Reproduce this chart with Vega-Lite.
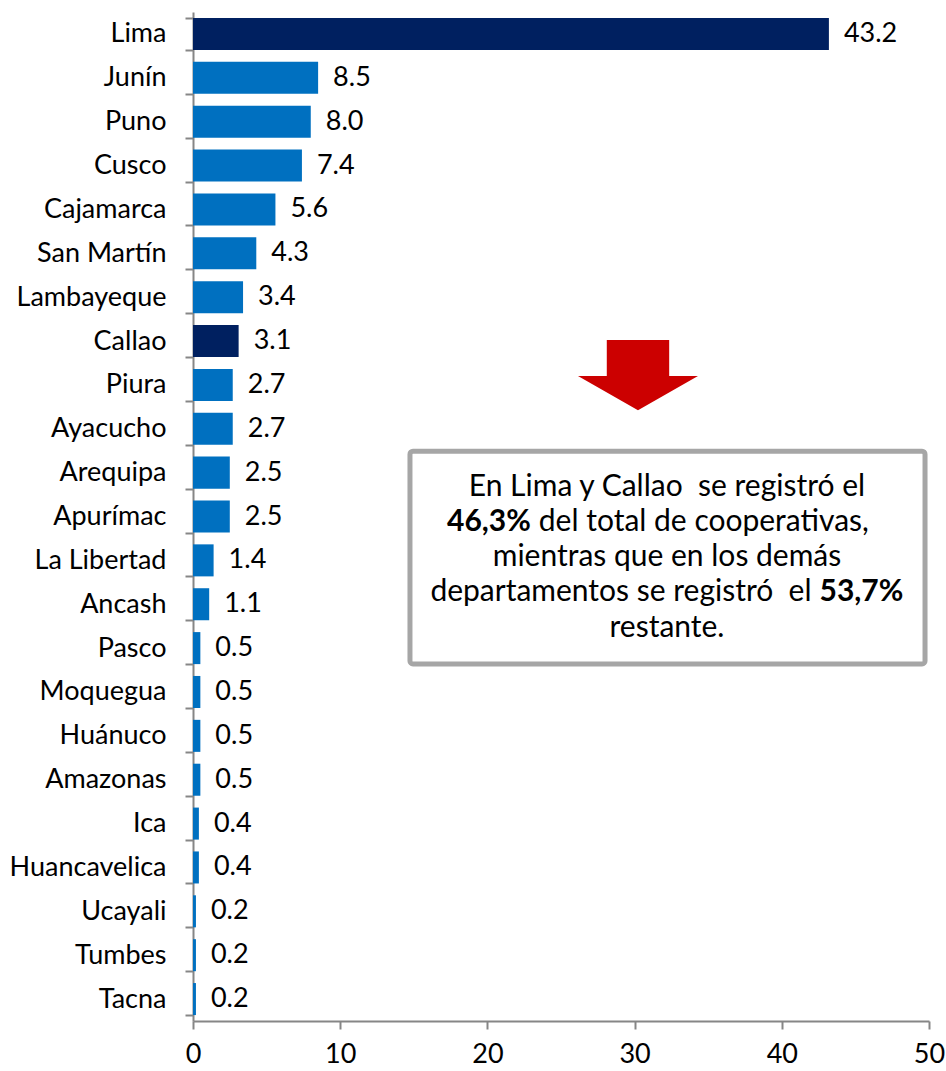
{
  "$schema": "https://vega.github.io/schema/vega-lite/v6.json",
  "width": 736,
  "height": 1009,
  "autosize": {"type": "none"},
  "padding": {"left": 193, "top": 12, "right": 17, "bottom": 50},
  "background": "white",
  "config": {
    "font": "Lato",
    "view": {"stroke": null},
    "axis": {
      "domainColor": "#868686",
      "tickColor": "#868686",
      "domainWidth": 2,
      "tickWidth": 2,
      "labelFont": "Lato",
      "labelFontSize": 27,
      "labelColor": "#000000",
      "grid": false,
      "title": null
    }
  },
  "data": {
    "values": [
      {"dept": "Lima", "value": 43.2},
      {"dept": "Junín", "value": 8.5},
      {"dept": "Puno", "value": 8.0},
      {"dept": "Cusco", "value": 7.4},
      {"dept": "Cajamarca", "value": 5.6},
      {"dept": "San Martín", "value": 4.3},
      {"dept": "Lambayeque", "value": 3.4},
      {"dept": "Callao", "value": 3.1},
      {"dept": "Piura", "value": 2.7},
      {"dept": "Ayacucho", "value": 2.7},
      {"dept": "Arequipa", "value": 2.5},
      {"dept": "Apurímac", "value": 2.5},
      {"dept": "La Libertad", "value": 1.4},
      {"dept": "Ancash", "value": 1.1},
      {"dept": "Pasco", "value": 0.5},
      {"dept": "Moquegua", "value": 0.5},
      {"dept": "Huánuco", "value": 0.5},
      {"dept": "Amazonas", "value": 0.5},
      {"dept": "Ica", "value": 0.4},
      {"dept": "Huancavelica", "value": 0.4},
      {"dept": "Ucayali", "value": 0.2},
      {"dept": "Tumbes", "value": 0.2},
      {"dept": "Tacna", "value": 0.2}
    ]
  },
  "layer": [
    {
      "encoding": {
        "y": {
          "field": "dept",
          "type": "nominal",
          "sort": null,
          "scale": {"paddingInner": 0.27, "paddingOuter": 0.135},
          "axis": {"tickBand": "extent", "tickSize": 8, "labelPadding": 19, "title": null}
        },
        "x": {
          "field": "value",
          "type": "quantitative",
          "scale": {"domain": [0, 50], "nice": false},
          "axis": {"values": [0, 10, 20, 30, 40, 50], "tickSize": 8, "labelPadding": 12, "labelFlush": false, "labelBound": false, "labelOverlap": false, "title": null}
        }
      },
      "layer": [
        {
          "mark": {"type": "bar"},
          "encoding": {
            "color": {
              "condition": {"test": "datum.dept === 'Lima' || datum.dept === 'Callao'", "value": "#002060"},
              "value": "#0070C0"
            }
          }
        },
        {
          "mark": {"type": "text", "align": "left", "baseline": "middle", "dx": 15, "fontSize": 27, "color": "#000000"},
          "encoding": {"text": {"field": "value", "type": "quantitative", "format": ".1f"}}
        }
      ]
    },
    {
      "data": {"values": [{}]},
      "layer": [
        {
          "mark": {"type": "rect", "fill": "white", "stroke": "#A6A6A6", "strokeWidth": 5, "cornerRadius": 3},
          "encoding": {
            "x": {"datum": 14.74, "type": "quantitative", "title": null},
            "x2": {"datum": 49.73},
            "y": {"datum": 10.01, "type": "quantitative", "scale": {"domain": [0, 23], "reverse": true, "nice": false, "zero": false}, "axis": null},
            "y2": {"datum": 14.86}
          }
        },
        {
          "mark": {"type": "point", "filled": true, "opacity": 1, "color": "#CC0000", "size": 14400,
            "shape": "M -0.52 -0.6 L 0.52 -0.6 L 0.52 0 L 1 0 L 0 0.567 L -1 0 L -0.52 0 Z"},
          "encoding": {
            "x": {"datum": 30.23, "type": "quantitative", "title": null},
            "y": {"datum": 8.3, "type": "quantitative", "axis": null}
          }
        },
        {
          "mark": {"type": "text", "text": "En Lima y Callao\u00a0 se registró el", "fontSize": 30, "align": "center", "baseline": "middle", "color": "#000000"},
          "encoding": {
            "x": {"datum": 32.2, "type": "quantitative", "title": null},
            "y": {"datum": 10.83, "type": "quantitative", "axis": null}
          }
        },
        {
          "mark": {"type": "text", "text": "46,3%", "fontSize": 30, "fontWeight": "bold", "align": "right", "baseline": "middle", "color": "#000000"},
          "encoding": {
            "x": {"datum": 22.95, "type": "quantitative", "title": null},
            "y": {"datum": 11.63, "type": "quantitative", "axis": null}
          }
        },
        {
          "mark": {"type": "text", "text": "del total de cooperativas,", "fontSize": 30, "align": "left", "baseline": "middle", "dx": 8, "color": "#000000"},
          "encoding": {
            "x": {"datum": 22.95, "type": "quantitative", "title": null},
            "y": {"datum": 11.63, "type": "quantitative", "axis": null}
          }
        },
        {
          "mark": {"type": "text", "text": "mientras que en los demás", "fontSize": 30, "align": "center", "baseline": "middle", "color": "#000000"},
          "encoding": {
            "x": {"datum": 32.2, "type": "quantitative", "title": null},
            "y": {"datum": 12.42, "type": "quantitative", "axis": null}
          }
        },
        {
          "mark": {"type": "text", "text": "departamentos se registró\u00a0 el", "fontSize": 30, "align": "right", "baseline": "middle", "color": "#000000"},
          "encoding": {
            "x": {"datum": 42.02, "type": "quantitative", "title": null},
            "y": {"datum": 13.22, "type": "quantitative", "axis": null}
          }
        },
        {
          "mark": {"type": "text", "text": "53,7%", "fontSize": 30, "fontWeight": "bold", "align": "left", "baseline": "middle", "dx": 8, "color": "#000000"},
          "encoding": {
            "x": {"datum": 42.02, "type": "quantitative", "title": null},
            "y": {"datum": 13.22, "type": "quantitative", "axis": null}
          }
        },
        {
          "mark": {"type": "text", "text": "restante.", "fontSize": 30, "align": "center", "baseline": "middle", "color": "#000000"},
          "encoding": {
            "x": {"datum": 32.2, "type": "quantitative", "title": null},
            "y": {"datum": 14.04, "type": "quantitative", "axis": null}
          }
        }
      ]
    }
  ],
  "resolve": {"scale": {"y": "independent"}, "axis": {"y": "independent"}}
}
